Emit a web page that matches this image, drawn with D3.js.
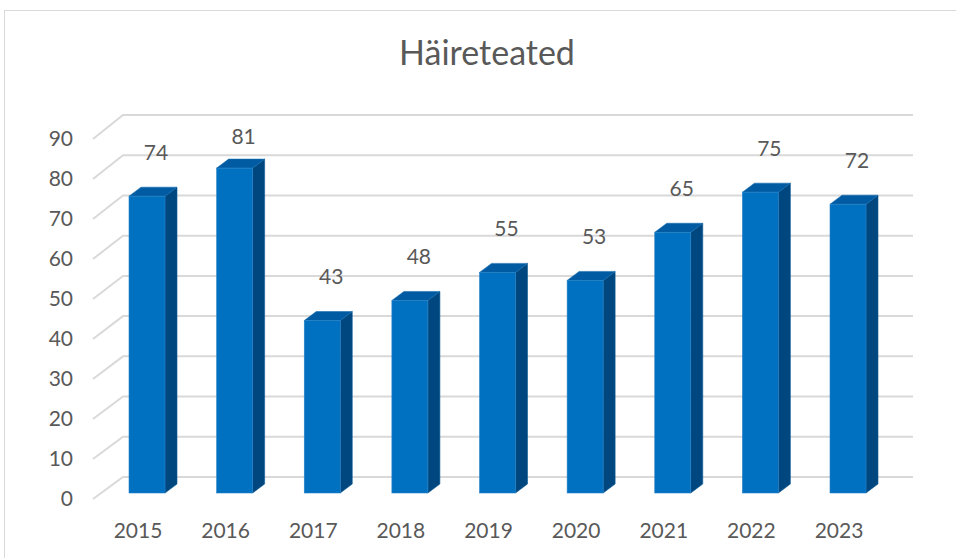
<!DOCTYPE html>
<html>
<head>
<meta charset="utf-8">
<script src="https://cdn.jsdelivr.net/npm/d3@7"></script>
<style>
  html, body { margin: 0; padding: 0; background: #fff; }
  svg { display: block; }
  text { font-family: Lato, "Open Sans", sans-serif; fill: #595959; }
</style>
</head>
<body>
<svg id="chart" width="956" height="558"></svg>
<script>
const title = "Häireteated";
const categories = ["2015", "2016", "2017", "2018", "2019", "2020", "2021", "2022", "2023"];
const values = [74, 81, 43, 48, 55, 53, 65, 75, 72];
const yTicks = [0, 10, 20, 30, 40, 50, 60, 70, 80, 90];

const svg = d3.select("#chart");
const W = 956, H = 558;

// outer chart border
svg.append("rect")
  .attr("x", 4.5).attr("y", 10.5).attr("width", W + 10).attr("height", H + 10)
  .attr("fill", "#fff").attr("stroke", "#d9d9d9").attr("stroke-width", 1);

// title
svg.append("text")
  .attr("x", 487).attr("y", 65)
  .attr("text-anchor", "middle")
  .style("font-size", "34px")
  .text(title);

// scales
const yBack = d3.scaleLinear().domain([0, 90]).range([477, 115]);   // back wall
const yFront = d3.scaleLinear().domain([0, 90]).range([499, 139]);  // front edge of side wall
const yBar = d3.scaleLinear().domain([0, 90]).range([493, 132]);    // bar front face
const x = d3.scalePoint().domain(categories).range([147, 848]);      // bar front-face centre
const wallLeft = 123, wallRight = 913, sideLeft = 93;
const barW = 36, depthX = 12, depthY = -9;

// gridlines (3D: diagonal on side wall + horizontal on back wall)
const grid = svg.append("g");
yTicks.forEach(t => {
  grid.append("path")
    .attr("d", `M${sideLeft},${yFront(t)}L${wallLeft},${yBack(t)}L${wallRight},${yBack(t)}`)
    .attr("fill", "none").attr("stroke", "#d9d9d9").attr("stroke-width", 2);
});

// y tick labels
svg.append("g").selectAll("text").data(yTicks).join("text")
  .attr("x", 73).attr("y", d => yFront(d))
  .attr("dy", "0.35em")
  .attr("text-anchor", "end")
  .style("font-size", "21px")
  .text(d => d);

// bars
const bars = svg.append("g").selectAll("g").data(values).join("g");
bars.each(function(v, i) {
  const g = d3.select(this);
  const cx = x(categories[i]);
  const x0 = cx - barW / 2, x1 = cx + barW / 2;
  const yt = yBar(v), yb = yBar(0);
  g.append("path")
    .attr("d", `M${x1},${yt}L${x1 + depthX},${yt + depthY}L${x1 + depthX},${yb + depthY}L${x1},${yb}Z`)
    .attr("fill", "#00477f").attr("stroke", "#0a5a95").attr("stroke-width", 0.6);
  g.append("path")
    .attr("d", `M${x0},${yt}L${x0 + depthX},${yt + depthY}L${x1 + depthX},${yt + depthY}L${x1},${yt}Z`)
    .attr("fill", "#005ba3").attr("stroke", "#1a6fb0").attr("stroke-width", 0.6);
  g.append("rect")
    .attr("x", x0).attr("y", yt).attr("width", barW).attr("height", yb - yt)
    .attr("fill", "#0070c0").attr("stroke", "#2a84c8").attr("stroke-width", 0.6);
});

// data labels
svg.append("g").selectAll("text").data(values).join("text")
  .attr("x", (d, i) => x(categories[i]) + 9)
  .attr("y", d => Math.max(yBar(d) - 44, 137))
  .attr("dy", "0.35em")
  .attr("text-anchor", "middle")
  .style("font-size", "21px")
  .text(d => d);

// category labels
svg.append("g").selectAll("text").data(categories).join("text")
  .attr("x", d => x(d) - 9)
  .attr("y", 531)
  .attr("dy", "0.35em")
  .attr("text-anchor", "middle")
  .style("font-size", "21px")
  .text(d => d);
</script>
</body>
</html>
